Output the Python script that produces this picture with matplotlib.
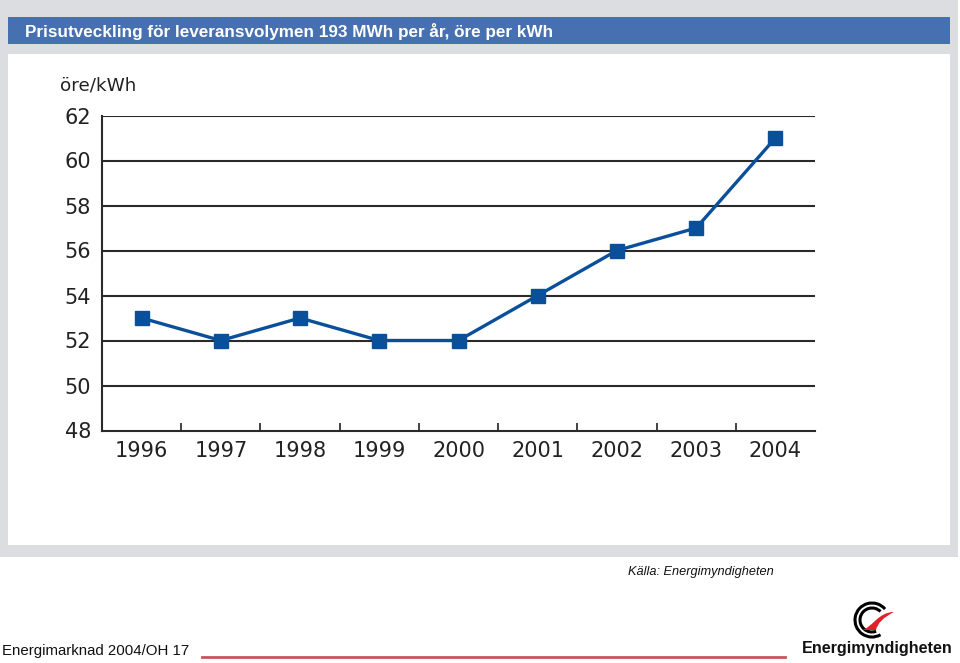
import matplotlib
matplotlib.use("Agg")
import matplotlib.pyplot as plt
from matplotlib.patches import Rectangle, Arc, PathPatch
from matplotlib.path import Path
import numpy as np

years = ["1996", "1997", "1998", "1999", "2000", "2001", "2002", "2003", "2004"]
prices = [53, 52, 53, 52, 52, 54, 56, 57, 61]
yticks = [48, 50, 52, 54, 56, 58, 60, 62]

title = "Prisutveckling för leveransvolymen 193 MWh per år, öre per kWh"
unit = "öre/kWh"
source = "Källa: Energimyndigheten"
footer = "Energimarknad 2004/OH 17"
logo_text = "Energimyndigheten"

W, H = 960, 663
plt.rcParams["font.family"] = ["Liberation Sans", "DejaVu Sans"]
fig = plt.figure(figsize=(W / 100, H / 100), dpi=100)
fig.patch.set_facecolor("white")


def fx(x):
    return x / W


def fy(y):
    return 1 - y / H


def rect(x0, y0, x1, y1, color, z=-10):
    fig.patches.append(Rectangle((fx(x0), fy(y1)), fx(x1) - fx(x0), fy(y0) - fy(y1),
                                 transform=fig.transFigure, facecolor=color,
                                 edgecolor="none", zorder=z))


# background frame
rect(0, 0, 958, 557, "#dcdde0", -12)
rect(8, 17, 950, 44, "#4670b0", -11)
rect(8, 54, 950, 545, "white", -11)

fig.text(fx(25), fy(31), title, color="white", fontsize=12.3, fontweight="bold",
         va="center", ha="left")
fig.text(fx(60), fy(85), unit, fontsize=13.2, va="center", ha="left", color="#222222",
         family="DejaVu Sans")

ax = fig.add_axes([fx(102), fy(430.5), fx(815) - fx(102), fy(115.5) - fy(430.5)])
ax.set_zorder(1)
ax.set_facecolor("none")
x = np.arange(len(years))
ax.plot(x, prices, color="#0a4f9a", lw=2.4, marker="s", markersize=10.5,
        markerfacecolor="#0a4f9a", markeredgecolor="#0a4f9a", zorder=5, clip_on=False)
ax.set_xlim(-0.5, len(years) - 0.5)
ax.set_ylim(48, 62)
ax.set_yticks(yticks)
ax.set_yticklabels([str(v) for v in yticks], fontsize=15, color="#222222",
                   family="DejaVu Sans")
ax.set_xticks(x)
ax.set_xticklabels(years, fontsize=15, color="#222222", family="DejaVu Sans")
ax.set_xticks(np.arange(0.5, len(years) - 1, 1), minor=True)
ax.tick_params(axis="x", which="major", length=0, pad=7.5)
ax.tick_params(axis="x", which="minor", direction="in", length=6, width=1.2, color="#222222")
ax.tick_params(axis="y", length=0, pad=8)
for v in yticks[1:]:
    ax.axhline(v, color="#2a2a2a", lw=1.5, zorder=1)
for s in ["top", "right"]:
    ax.spines[s].set_visible(False)
for s in ["left", "bottom"]:
    ax.spines[s].set_color("#2a2a2a")
    ax.spines[s].set_linewidth(1.5)

fig.text(fx(628), fy(572), source, fontsize=9.2, style="italic", va="center", ha="left",
         color="#111111")
fig.text(fx(2), fy(651), footer, fontsize=10.8, va="center", ha="left", color="#111111")
fig.lines.append(plt.Line2D([fx(202), fx(785)], [fy(657), fy(657)], transform=fig.transFigure,
                            color="#c9545c", lw=2))

# logo
fig.text(fx(877), fy(649), logo_text, fontsize=11.6, fontweight="bold",
         va="center", ha="center", color="#111111")
lax = fig.add_axes([fx(848), fy(642), fx(898) - fx(848), fy(598) - fy(642)])
lax.set_xlim(0, 50)
lax.set_ylim(0, 44)
lax.set_aspect("equal")
lax.axis("off")
lax.add_patch(Arc((24, 22), 34, 34, theta1=40, theta2=300, color="black", lw=2.2))
lax.add_patch(Arc((24, 22), 24, 24, theta1=45, theta2=290, color="black", lw=2.2))
verts = [(14, 12), (24, 14), (30, 30), (46, 30), (30, 22), (28, 12), (14, 12)]
codes = [Path.MOVETO, Path.CURVE4, Path.CURVE4, Path.CURVE4, Path.CURVE3, Path.CURVE3, Path.CLOSEPOLY]
lax.add_patch(PathPatch(Path(verts, codes), facecolor="#e0202a", edgecolor="none"))

fig.savefig("out.png", dpi=100)
